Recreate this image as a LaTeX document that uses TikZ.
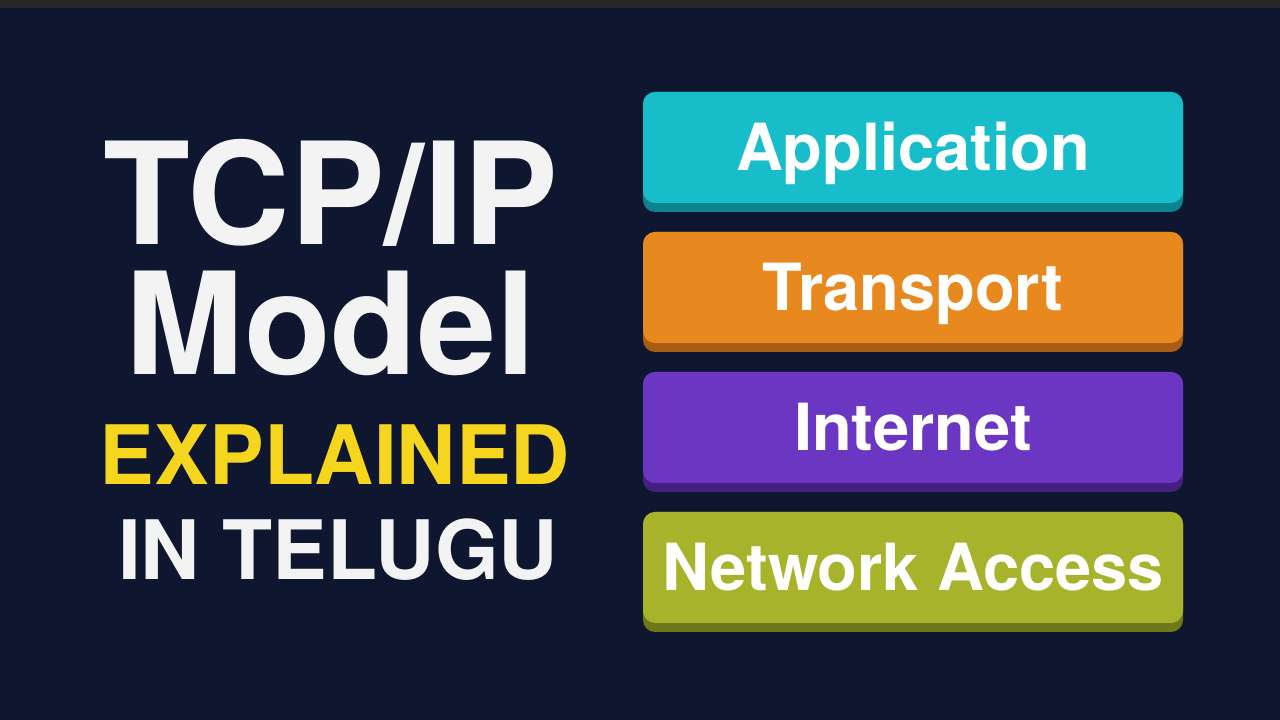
\documentclass[tikz,border=0pt]{standalone}
\usepackage{fontspec}
\setmainfont{TeX Gyre Heros}
\definecolor{bg}{HTML}{0F1630}
\definecolor{cyanL}{HTML}{17BDC9}\definecolor{cyanD}{HTML}{0E8390}
\definecolor{orL}{HTML}{E8891F}\definecolor{orD}{HTML}{A85E12}
\definecolor{puL}{HTML}{6B36C2}\definecolor{puD}{HTML}{45207E}
\definecolor{olL}{HTML}{A7B42B}\definecolor{olD}{HTML}{6E771A}
\definecolor{ylw}{HTML}{F5D51E}
\definecolor{wht}{HTML}{F3F3F3}
\tikzset{
 big/.style={text=wht,font=\bfseries\fontsize{142}{142}\selectfont,anchor=base,inner sep=0},
 mid/.style={font=\bfseries\fontsize{82}{82}\selectfont,anchor=base,inner sep=0},
 lbl/.style={text=white,font=\bfseries\fontsize{65}{65}\selectfont,anchor=base,inner sep=0},
}
\newcommand{\layerbox}[5]{% top y, light, dark, name, text
 \fill[#3,rounded corners=12pt] (643pt,{(720-#1-120)*1pt}) rectangle (1183pt,{(720-#1)*1pt});
 \fill[#2,rounded corners=12pt] (643pt,{(720-#1-111)*1pt}) rectangle (1183pt,{(720-#1)*1pt});
 \node[lbl] (#4) at (913pt,{(720-#1-79)*1pt}) {#5};
}
\begin{document}
\begin{tikzpicture}
\useasboundingbox (0,0) rectangle (1280pt,720pt);
\fill[bg] (0,0) rectangle (1280pt,720pt);
\fill[black!85] (0,712pt) rectangle (1280pt,720pt);
\node[big] (t1) at (331pt,{(720-245)*1pt}) {TCP/IP};
\node[big] (t2) at (331pt,{(720-375)*1pt}) {Model};
\node[mid,text=ylw] (t3) at (335pt,{(720-485)*1pt}) {EXPLAINED};
\node[mid,text=wht] (t4) at (338pt,{(720-580)*1pt}) {IN TELUGU};
\layerbox{92}{cyanL}{cyanD}{app}{Application}
\layerbox{232}{orL}{orD}{tra}{Transport}
\layerbox{372}{puL}{puD}{int}{Internet}
\layerbox{512}{olL}{olD}{net}{Network Access}
\end{tikzpicture}
\end{document}
